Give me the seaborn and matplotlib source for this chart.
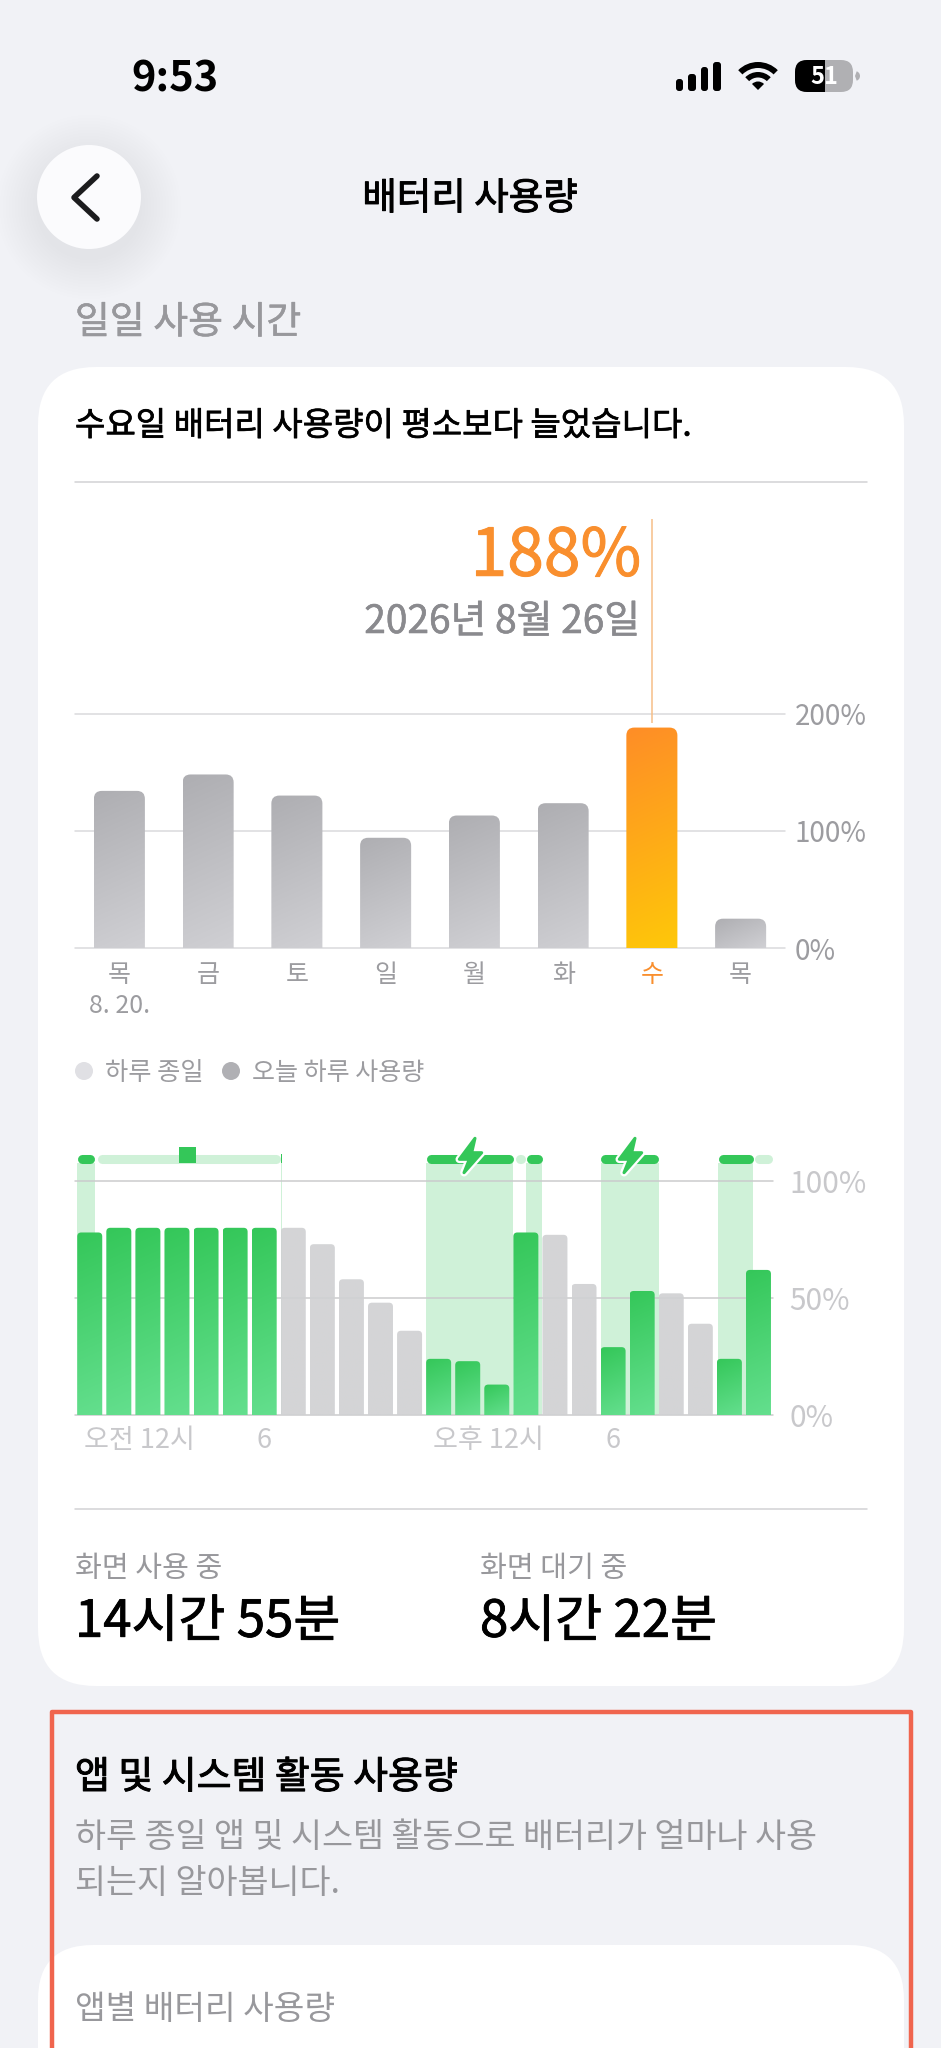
import numpy as np
import pandas as pd
import matplotlib
matplotlib.use("Agg")
import matplotlib.pyplot as plt
import matplotlib.colors as mcolors
import matplotlib.patheffects as pe
from matplotlib.patches import FancyBboxPatch, Circle, Wedge, Polygon, PathPatch, Rectangle
from matplotlib.path import Path
import seaborn as sns

# daily chart
day_keys = ["8.20", "8.21", "8.22", "8.23", "8.24", "8.25", "8.26", "8.27"]
day_labels = ["목\n8. 20.", "금", "토", "일", "월", "화", "수", "목"]
day_usage = [134, 148, 130, 94, 113, 123.5, 188, 25]
day_ticks = [0, 100, 200]
day_tick_labels = ["0%", "100%", "200%"]
selected_day = 6

# hourly chart
hour_keys = [f"h{i}" for i in range(24)]
hour_level = [78, 80, 80, 80, 80, 80, 80, 80, 73, 58, 48, 36,
              24, 23, 13, 78, 77, 56, 29, 53, 52, 39, 24, 62]
hour_charging = [1, 1, 1, 1, 1, 1, 1, 0, 0, 0, 0, 0,
                 1, 1, 1, 1, 0, 0, 1, 1, 0, 0, 1, 1]
hour_ticks = [-0.2, 6, 11.8, 18]
hour_tick_labels = ["오전 12시", "6", "오후 12시", "6"]
level_ticks = [0, 50, 100]
level_tick_labels = ["0%", "50%", "100%"]

# charging spans, in hours from midnight
column_spans = [(0, 0.6), (7.0, 7.04), (12, 15), (15.45, 16), (18, 20), (22.05, 23.25)]
dark_spans = [(0, 0.6), (12, 15), (15.45, 16), (18, 20), (22.05, 23.25)]
light_spans = [(0.68, 7.0), (15.1, 15.38), (23.3, 23.92)]
marker_span = (3.5, 4.1)

BG = "#F1F2F6"
INK = "#000000"
MUTED = "#98989C"
TICK = "#9C9CA0"
FAINT = "#C8C8CB"
ORANGE = "#F98F2E"
GREEN_TOP = "#34C759"
GREEN_BOTTOM = "#64DF8E"
GRAY_TOP = "#AEAEB2"
GRAY_BOTTOM = "#D0D0D4"
W, H = 941, 2048

sns.set_theme(style="white")
plt.rcParams["font.family"] = ["Noto Sans CJK KR", "DejaVu Sans"]

fig = plt.figure(figsize=(W / 100, H / 100), dpi=100, facecolor=BG)

# page layer in pixel coordinates
page = fig.add_axes([0, 0, 1, 1], zorder=0)
page.set_xlim(0, W)
page.set_ylim(H, 0)
page.axis("off")


def chart_axes(left, top, right, bottom):
    ax = fig.add_axes([left / W, 1 - bottom / H, (right - left) / W, (bottom - top) / H], zorder=2)
    ax.patch.set_alpha(0)
    return ax


def label(x, y, s, size, color=INK, weight="normal", ha="left", stroke=0):
    t = page.text(x, y, s, fontsize=size, color=color, fontweight=weight, ha=ha, va="center", zorder=8)
    # the installed font has no medium cut, so thicken the regular one
    if stroke:
        t.set_path_effects([pe.withStroke(linewidth=stroke, foreground=color)])
    return t


def rounded(x0, y0, x1, y1, r, color, zorder=1, **kw):
    p = FancyBboxPatch((x0 + r, y0 + r), x1 - x0 - 2 * r, y1 - y0 - 2 * r,
                       boxstyle=f"round,pad={r},rounding_size={r}",
                       facecolor=color, edgecolor="none", zorder=zorder, **kw)
    page.add_patch(p)
    return p


def gradient_bars(ax, top_colors, bottom_colors, radius, alphas=None):
    """Swap the bars seaborn drew for clipped gradients with rounded top corners."""
    x_lim, y_lim = ax.get_xlim(), ax.get_ylim()
    (ox, oy), (ex, ey) = ax.transData.transform([(0, 0), (1, 1)])
    sx, sy = abs(ex - ox), abs(ey - oy)
    for i, bar in enumerate(list(ax.patches)):
        c_top, c_bot = top_colors[i], bottom_colors[i]
        x0, w, h = bar.get_x(), bar.get_width(), bar.get_height()
        bar.set_visible(False)
        px_w, px_h = max(int(w * sx), 2), max(int(h * sy), 2)
        u, v = np.meshgrid(np.linspace(0, 1, px_w), np.linspace(0, 1, px_h))
        t = (u * px_w * 0.4 + v * px_h * 0.9) / (px_w * 0.4 + px_h * 0.9)
        a, b = np.array(mcolors.to_rgb(c_top)), np.array(mcolors.to_rgb(c_bot))
        img = a + (b - a) * t[..., None]
        im = ax.imshow(img, extent=[x0, x0 + w, 0, h], aspect="auto", origin="upper", zorder=3,
                       alpha=None if alphas is None else alphas[i], interpolation="bilinear")
        rx, ry = radius / sx, radius / sy
        verts = [(x0, 0), (x0, h - ry), (x0, h), (x0 + rx, h), (x0 + w - rx, h),
                 (x0 + w, h), (x0 + w, h - ry), (x0 + w, 0), (x0, 0)]
        codes = [Path.MOVETO, Path.LINETO, Path.CURVE3, Path.CURVE3, Path.LINETO,
                 Path.CURVE3, Path.CURVE3, Path.LINETO, Path.CLOSEPOLY]
        im.set_clip_path(PathPatch(Path(verts, codes), transform=ax.transData))
    ax.set_xlim(x_lim)
    ax.set_ylim(y_lim)


def style_axis(ax, grid_color):
    sns.despine(ax=ax, left=True, bottom=True, top=True, right=True)
    ax.set_xlabel("")
    ax.set_ylabel("")
    ax.yaxis.tick_right()
    ax.set_axisbelow(True)
    ax.grid(axis="y", color=grid_color, lw=1.1)
    ax.grid(axis="x", visible=False)
    for line in ax.get_ygridlines():
        line.set_clip_on(False)


# status bar
label(131, 79, "9:53", 30, weight="bold")
for x0, x1, top in [(676, 683, 79), (688, 696, 74), (701, 708, 67), (713, 721, 62)]:
    rounded(x0, top, x1, 91, 3, INK, zorder=3)
for r_out, r_in in [(28, 22), (18, 12.5), (8.5, 0)]:
    page.add_patch(Wedge((758, 90), r_out, -135, -45, width=r_out - r_in, facecolor=INK, edgecolor="none", zorder=3))
rounded(795, 60, 853, 92, 12, "#B0B0B3", zorder=3)
black = rounded(795, 60, 853, 92, 12, INK, zorder=4)
black.set_clip_path(Rectangle((795, 55), 30, 42, transform=page.transData))
page.add_patch(Wedge((855, 76), 5, -70, 70, facecolor="#B0B0B3", edgecolor="none", zorder=3))
label(824, 77, "51", 17, color="white", weight="bold", ha="center")

# back button
for r in np.arange(92, 52, -3):
    page.add_patch(Circle((89, 207), r, facecolor="#80808A", alpha=0.007, edgecolor="none", zorder=1))
page.add_patch(Circle((89, 197), 52, facecolor="#FBFBFD", edgecolor="none", zorder=2))
page.plot([97, 74, 97], [176, 197.5, 219], color="#1C1C1E", lw=4, solid_capstyle="round",
          solid_joinstyle="round", zorder=3)
label(470, 199, "배터리 사용량", 27, ha="center", stroke=0.7)
label(75, 323, "일일 사용 시간", 27.3, color=MUTED, stroke=0.4)

# summary card
rounded(38, 367, 904, 1686, 58, "white")
label(75, 426, "수요일 배터리 사용량이 평소보다 늘었습니다.", 23.8, stroke=0.5)
page.plot([75, 867], [482, 482], color="#D2D2D4", lw=1.1, zorder=2)
page.plot([75, 867], [1509, 1509], color="#D2D2D4", lw=1.1, zorder=2)
label(641, 557, "188%", 47.5, color=ORANGE, ha="right", stroke=0.7)
label(640, 622, "2026년 8월 26일", 28, color="#8A8A8E", ha="right", stroke=0.4)

# daily usage bars
ax1 = chart_axes(75, 713.5, 785, 948)
sns.barplot(x=day_keys, y=day_usage, color=GRAY_TOP, width=0.575, ax=ax1)
ax1.set_xlim(-0.5, 7.5)
ax1.set_ylim(0, 200)
style_axis(ax1, "#DADADC")
ax1.set_yticks(day_ticks, day_tick_labels)
ax1.set_xticks(range(len(day_labels)), day_labels)
ax1.tick_params(axis="y", length=0, pad=7, labelsize=20, labelcolor=TICK)
ax1.tick_params(axis="x", length=0, pad=10, labelsize=18, labelcolor=TICK)
ax1.get_xticklabels()[0].set_linespacing(1.25)
ax1.get_xticklabels()[selected_day].set_color(ORANGE)
tops = [GRAY_TOP] * 8
bottoms = [GRAY_BOTTOM] * 8
tops[selected_day], bottoms[selected_day] = "#FE8D27", "#FFC809"
gradient_bars(ax1, tops, bottoms, radius=8)
ax1.vlines(selected_day, 192, 366, color="#F6BE87", lw=1.1, clip_on=False, zorder=2)

# legend
page.add_patch(Circle((84, 1071), 9, facecolor="#E0E0E4", edgecolor="none", zorder=3))
page.add_patch(Circle((231, 1071), 9, facecolor="#B0B0B4", edgecolor="none", zorder=3))
label(105, 1073, "하루 종일", 18.2, color=TICK)
label(252, 1073, "오늘 하루 사용량", 18, color=TICK)

# hourly battery level bars
ax2 = chart_axes(75.2, 1181, 773, 1415)
sns.barplot(x=hour_keys, y=hour_level, color=GRAY_BOTTOM, width=0.86, ax=ax2)
ax2.set_xlim(-0.5, 23.5)
ax2.set_ylim(0, 100)
style_axis(ax2, "#CBCBCD")
ax2.set_yticks(level_ticks, level_tick_labels)
ax2.set_xticks(hour_ticks, hour_tick_labels)
ax2.tick_params(axis="y", length=0, pad=12, labelsize=21.5, labelcolor=FAINT)
ax2.tick_params(axis="x", length=0, pad=9, labelsize=19.5, labelcolor=FAINT)
for i in (0, 2):
    ax2.get_xticklabels()[i].set_ha("left")
gradient_bars(ax2, [GREEN_TOP if c else "#D0D1D3" for c in hour_charging],
              [GREEN_BOTTOM if c else "#D0D1D3" for c in hour_charging], radius=4,
              alphas=[1 if c else 0.92 for c in hour_charging])

# charging strip above the bars, hours map to bar slots
hour_pos = lambda h: h - 0.43
STRIP_LOW, STRIP_HIGH = 107.7, 111.5
LIGHT = "#CFF1D8"
for h0, h1 in column_spans:
    ax2.fill_between([hour_pos(h0), hour_pos(h1)], 0, STRIP_LOW, color=LIGHT, lw=0, zorder=0.3, clip_on=False)
ax2.fill_between([hour_pos(7.0), hour_pos(7.04)], STRIP_LOW, STRIP_HIGH, color=GREEN_TOP, lw=0, clip_on=False, zorder=2)
cap = 0.155
for h0, h1 in light_spans:
    ax2.plot([hour_pos(h0) + cap, hour_pos(h1) - cap], [(STRIP_LOW + STRIP_HIGH) / 2] * 2, color=LIGHT, lw=6.5,
             solid_capstyle="round", clip_on=False, zorder=1)
for h0, h1 in dark_spans:
    ax2.plot([hour_pos(h0) + cap, hour_pos(h1) - cap], [(STRIP_LOW + STRIP_HIGH) / 2] * 2, color=GREEN_TOP, lw=6.5,
             solid_capstyle="round", clip_on=False, zorder=2)
ax2.fill_between([hour_pos(marker_span[0]), hour_pos(marker_span[1])], STRIP_LOW, 114.5, color=GREEN_TOP, lw=0,
                 clip_on=False, zorder=2)
bolt = np.array([(475, 1138.3), (459.3, 1159.3), (469.3, 1159.3), (464, 1172.7), (481.7, 1152.7), (471.7, 1152.7)])
for shift in (0, 160):
    for edge, face, lw in [("white", "white", 5.5), (GREEN_TOP, GREEN_TOP, 2.2)]:
        ax2.add_patch(Polygon(bolt + [shift, 0], closed=True, facecolor=face, edgecolor=edge, lw=lw, joinstyle="round",
                              transform=page.transData, clip_on=False, zorder=5))

# totals
label(75, 1569, "화면 사용 중", 21, color=MUTED)
label(480, 1569, "화면 대기 중", 21, color=MUTED)
label(75, 1622, "14시간 55분", 36.7, stroke=0.6)
label(480, 1622, "8시간 22분", 36.7, stroke=0.6)

# app activity section
rounded(38, 1945, 904, 2200, 55, "white", zorder=1)
page.plot([52.5, 52.5, 911.5, 911.5], [2060, 1712, 1712, 2060], color="#F0654E", lw=3.2, solid_joinstyle="round", zorder=6)
label(75, 1778, "앱 및 시스템 활동 사용량", 27.3, stroke=0.7)
label(75, 1838, "하루 종일 앱 및 시스템 활동으로 배터리가 얼마나 사용", 24.3, color=MUTED)
label(75, 1884, "되는지 알아봅니다.", 24.3, color=MUTED)
label(75, 2010, "앱별 배터리 사용량", 24, color=MUTED)

fig.savefig("out.png", dpi=100, facecolor=BG)
